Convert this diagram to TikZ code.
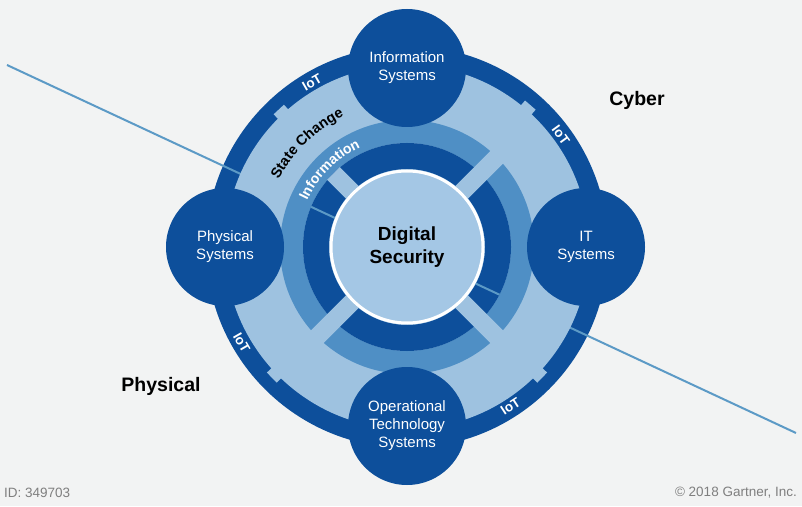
\documentclass[tikz,border=0pt]{standalone}
\usepackage{fontspec}
\setmainfont{Liberation Sans}
\usetikzlibrary{positioning,decorations.text}
\definecolor{bggray}{HTML}{F2F3F3}
\definecolor{darkblue}{HTML}{0D4F9B}
\definecolor{midblue}{HTML}{4F8FC5}
\definecolor{lightblue}{HTML}{9EC2E0}
\definecolor{coreblue}{HTML}{A4C7E5}
\definecolor{linecol}{HTML}{5C9AC6}
\definecolor{idgray}{HTML}{7F7F7F}

\begin{document}
\begin{tikzpicture}[x=1pt,y=1pt,
			sysnode/.style={circle, fill=darkblue, minimum size=118pt, inner sep=0pt, text=white, align=center, font=\fontsize{15}{18}\selectfont},
			iotlabel/.style={text=white, inner sep=0pt, font=\fontsize{13.5}{13.5}\selectfont\bfseries},
			sidelabel/.style={inner sep=0pt, font=\fontsize{19.5}{19.5}\selectfont\bfseries},
			footlabel/.style={inner sep=0pt, text=idgray, font=\fontsize{13.5}{14}\selectfont}
		]
		\useasboundingbox (0,0) rectangle (802,506);
		\fill[bggray] (0,0) rectangle (802,506);

		\coordinate (c) at (407,259);
		\coordinate (divL) at (7,441);
		\coordinate (divR) at (796,73);

		% outer IoT ring
		\fill[darkblue] (c) circle (201);
		\draw[linecol, line width=2pt] (divL) -- (divR);

		% state change ring with its tabs
		\fill[lightblue] (c) circle (182);
		\foreach \a in {133,49,224,316}
			\fill[lightblue, shift={(c)}, rotate=\a] (175,-7) rectangle (188,7);

		% information and inner rings
		\draw[midblue, line width=23pt] (c) circle (115.5);
		\draw[darkblue, line width=26pt] (c) circle (91);
		\begin{scope}
			\clip (c) circle (104);
			\draw[linecol, line width=2pt] (divL) -- (divR);
		\end{scope}
		\foreach \a in {45,225,315}
			\fill[lightblue, shift={(c)}, rotate=\a] (60,-9) rectangle (130,9);
		\fill[lightblue, shift={(c)}, rotate=135] (60,-9) rectangle (104,9);

		\node[circle, fill=coreblue, draw=white, line width=3pt, minimum size=152pt, align=center, font=\fontsize{19}{23}\selectfont\bfseries] (core) at (c) {Digital\\Security};

		\node[sysnode] (infosys) at ([shift={(0,179)}]c) {Information\\Systems};
		\node[sysnode] (otsys) at ([shift={(0,-179)}]c) {Operational\\Technology\\Systems};
		\node[sysnode] (physsys) at ([shift={(-182,0)}]c) {Physical\\Systems};
		\node[sysnode] (itsys) at ([shift={(179,0)}]c) {IT\\Systems};

		\node[iotlabel, rotate=30] (iot1) at ([shift={(120:190)}]c) {IoT};
		\node[iotlabel, rotate=-54] (iot2) at ([shift={(36:190)}]c) {IoT};
		\node[iotlabel, rotate=-60] (iot3) at ([shift={(210:191)}]c) {IoT};
		\node[iotlabel, rotate=33] (iot4) at ([shift={(-57:190)}]c) {IoT};

		\path[decorate, decoration={text along path, text align=center,
			text={|\fontsize{14.5}{14.5}\selectfont\bfseries|State Change}}]
			([shift={(178:145)}]c) arc[start angle=178, end angle=90, radius=145];
		\path[decorate, decoration={text along path, text align=center,
			text={|\fontsize{14}{14}\selectfont\bfseries\color{white}|Information}}]
			([shift={(178:110)}]c) arc[start angle=178, end angle=92, radius=110];

		\node[sidelabel] (cyber) at (637,406) {Cyber};
		\node[sidelabel] (physical) at (161,120) {Physical};

		\node[footlabel, anchor=west] (docid) at (4,13) {ID: 349703};
		\node[footlabel, anchor=east] (copy) at (797,13) {\textcopyright{} 2018 Gartner, Inc.};
	\end{tikzpicture}
\end{document}
